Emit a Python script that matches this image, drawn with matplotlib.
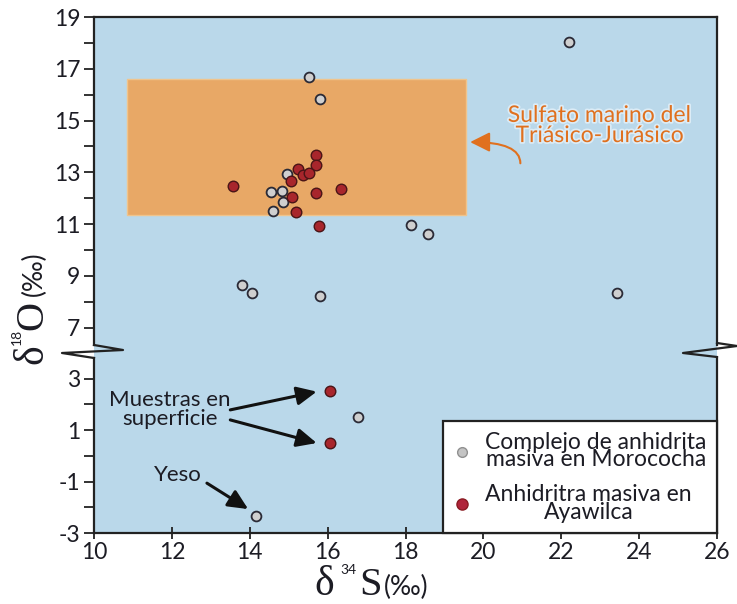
import matplotlib
matplotlib.use('Agg')
import matplotlib.pyplot as plt
import matplotlib.patheffects as pe
from matplotlib.lines import Line2D
from matplotlib.patches import Rectangle

plt.rcParams['font.family'] = ['Lato', 'DejaVu Sans']
plt.rcParams['axes.unicode_minus'] = False

# Complejo de anhidrita masiva en Morococha (d34S, d18O)
moro_s = [15.53, 15.81, 14.95, 14.54, 14.82, 14.85, 14.59, 13.81, 14.05, 15.81,
          22.19, 18.14, 18.59, 23.44, 16.78, 14.16]
moro_o = [16.68, 15.85, 12.93, 12.23, 12.29, 11.87, 11.51, 8.65, 8.33, 8.23,
          18.02, 10.96, 10.61, 8.36, 1.51, -2.34]

# Anhidrita masiva en Ayawilca
aya_s = [13.58, 15.70, 15.71, 15.25, 15.36, 15.53, 15.05, 15.08, 15.71, 16.34,
         15.19, 15.79, 16.07, 16.07]
aya_o = [12.47, 13.67, 13.29, 13.12, 12.90, 12.99, 12.68, 12.06, 12.19, 12.36,
         11.48, 10.93, 2.54, 0.50]

# sulfato marino del Triasico-Jurasico
box_s = [10.85, 19.55]
box_o = [11.35, 16.6]

x_ticks = [10, 12, 14, 16, 18, 20, 22, 24, 26]
y_ticks_top = [7, 9, 11, 13, 15, 17, 19]
y_minor_top = [8, 10, 12, 14, 16, 18]
y_ticks_bot = [-3, -1, 1, 3]
y_minor_bot = [-2, 0, 2]

labels = ['Complejo de anhidrita\nmasiva en Morococha',
          'Anhidritra masiva en\nAyawilca']

W, H = 737, 604
def fx(px): return px / W
def fy(py): return 1 - py / H

bg = '#BAD8EA'
orange = '#E0701E'
ink = '#1c1c24'
serif = ['Liberation Serif', 'DejaVu Serif']

fig = plt.figure(figsize=(7.37, 6.04), dpi=100)
ax_top = fig.add_axes([fx(94), fy(350), 623 / W, 333 / H])
ax_bot = fig.add_axes([fx(94), fy(533), 623 / W, 183 / H], sharex=ax_top)

for ax in (ax_top, ax_bot):
    ax.set_facecolor(bg)
    ax.scatter(moro_s, moro_o, s=50, c='#cfcfcf', edgecolors='#2a2a36', linewidths=1.3, zorder=3)
    ax.scatter(aya_s, aya_o, s=58, c='#a8262c', edgecolors='#4a1416', linewidths=1.0, zorder=3)
    for sp in ax.spines.values():
        sp.set_linewidth(1.6)
        sp.set_color('#222222')
    ax.tick_params(axis='y', which='both', direction='out', length=7, width=1.3,
                   labelsize=16.5, pad=3, right=False, colors='#222222')
    ax.tick_params(axis='y', labelcolor=ink)

ax_top.add_patch(Rectangle((box_s[0], box_o[0]), box_s[1] - box_s[0], box_o[1] - box_o[0],
                           facecolor='#E8A866', edgecolor='#F0C48C', lw=1, zorder=1))

ax_top.set_xlim(10, 26)
ax_top.set_ylim(6.14, 19)
ax_bot.set_ylim(-3, 4.12)
ax_top.set_yticks(y_ticks_top)
ax_top.set_yticks(y_minor_top, minor=True)
ax_bot.set_yticks(y_ticks_bot)
ax_bot.set_yticks(y_minor_bot, minor=True)
ax_bot.set_xticks(x_ticks)

ax_top.spines['bottom'].set_visible(False)
ax_bot.spines['top'].set_visible(False)
ax_top.tick_params(axis='x', bottom=False, labelbottom=False)
ax_bot.tick_params(axis='x', direction='inout', length=9, width=1.3, labelsize=16.5, pad=2,
                   top=False, colors='#222222', labelcolor=ink)

# spines stop at the break
ax_top.spines['left'].set_bounds(6.34, 19)
ax_top.spines['right'].set_bounds(6.34, 19)
ax_bot.spines['left'].set_bounds(-3, 3.81)
ax_bot.spines['right'].set_bounds(-3, 3.81)

# zigzag break marks
fig.add_artist(Line2D([fx(94), fx(123), fx(62), fx(94)], [fy(345), fy(350), fy(353), fy(358)],
                      color='#222222', lw=1.6))
fig.add_artist(Line2D([fx(717), fx(737), fx(683), fx(717)], [fy(343), fy(346), fy(353), fy(357)],
                      color='#222222', lw=1.6))

# orange note
ax_top.text(22.98, 14.81, 'Sulfato marino del\nTriásico-Jurásico', color=orange, fontsize=16.5,
            ha='center', va='center', linespacing=0.95,
            path_effects=[pe.withStroke(linewidth=2.5, foreground='#dcecf6')])
ax_top.annotate('', xy=(19.66, 14.17), xytext=(20.95, 13.35),
                arrowprops=dict(arrowstyle='-|>,head_length=0.6,head_width=0.3', color=orange,
                                lw=1.5, mutation_scale=20, shrinkA=0, shrinkB=0,
                                connectionstyle='angle3,angleA=90,angleB=0'))

# black notes
arw = dict(arrowstyle='-|>,head_length=0.6,head_width=0.28', color='#111111', lw=2.2,
           mutation_scale=20, shrinkA=0, shrinkB=0)
ax_bot.text(11.95, 1.82, 'Muestras en\nsuperficie', color=ink, fontsize=16,
            ha='center', va='center', linespacing=0.95)
ax_bot.annotate('', xy=(15.72, 2.5), xytext=(13.5, 1.79), arrowprops=arw)
ax_bot.annotate('', xy=(15.72, 0.5), xytext=(13.5, 1.40), arrowprops=arw)
ax_bot.text(12.16, -0.74, 'Yeso', color=ink, fontsize=16, ha='center', va='center')
ax_bot.annotate('', xy=(13.96, -2.07), xytext=(12.9, -1.06), arrowprops=arw)

# legend
handles = [Line2D([], [], marker='o', ls='none', mfc='#c4c4c4', mec='#909090', ms=7),
           Line2D([], [], marker='o', ls='none', mfc='#b0243a', mec='#8a1a22', ms=8)]
leg = ax_bot.legend(handles, labels, loc='lower right', bbox_to_anchor=(1, 0), borderaxespad=0,
                    fancybox=False, edgecolor='#222222', framealpha=1, fontsize=16.5,
                    handlelength=0.8, handletextpad=0.6, labelspacing=0.6, borderpad=0.45)
leg.get_frame().set_linewidth(1.6)
for t in leg.get_texts():
    t.set_multialignment('center')
    t.set_linespacing(0.8)
    t.set_color(ink)

# axis labels: large serif delta and letter, small isotope number, sans (‰)
fig.text(fx(314), fy(595), 'δ', family=serif, fontsize=30, ha='left', va='baseline', color=ink)
fig.text(fx(340), fy(574), '34', fontsize=10, ha='left', va='baseline', color=ink)
fig.text(fx(382), fy(595), 'S', family=serif, fontsize=29, ha='right', va='baseline', color=ink)
fig.text(fx(384), fy(595), '(‰)', fontsize=19, ha='left', va='baseline', color=ink)

ykw = dict(rotation=90, rotation_mode='anchor', ha='left', va='baseline', color=ink)
fig.text(fx(42), fy(364), 'δ', family=serif, fontsize=30, **ykw)
fig.text(fx(21), fy(345), '18', fontsize=10, **ykw)
fig.text(fx(42), fy(330), 'O', family=serif, fontsize=29, **ykw)
fig.text(fx(42), fy(296), '(‰)', fontsize=19, **ykw)

fig.savefig('out.png', dpi=100, facecolor='white')
